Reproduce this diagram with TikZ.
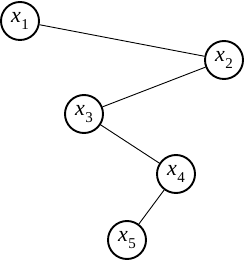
\documentclass[tikz,border=0pt]{standalone}
\usepackage{fontspec}
\setmainfont{Liberation Serif}
\newfontfamily\timesit{Liberation Serif Italic}
\newcommand{\vx}[1]{{\timesit x}\kern0.03em\raisebox{-0.28em}{\fontsize{15}{15}\selectfont #1}}
\tikzset{
  vnode/.style={circle,draw,line width=1.9pt,minimum size=38pt,inner sep=0pt,font=\fontsize{22}{22}\selectfont},
  edge/.style={line width=0.9pt}
}
\begin{document}
\begin{tikzpicture}[x=1pt,y=-1pt]
\useasboundingbox (0,0) rectangle (245,261);
\node[vnode] (x1) at (20,21) {\vx{1}};
\node[vnode] (x2) at (224,60) {\vx{2}};
\node[vnode] (x3) at (84,114) {\vx{3}};
\node[vnode] (x4) at (176,174) {\vx{4}};
\node[vnode] (x5) at (127,240) {\vx{5}};
\draw[edge] (x1) -- (x2);
\draw[edge] (x2) -- (x3);
\draw[edge] (x3) -- (x4);
\draw[edge] (x4) -- (x5);
\end{tikzpicture}
\end{document}
